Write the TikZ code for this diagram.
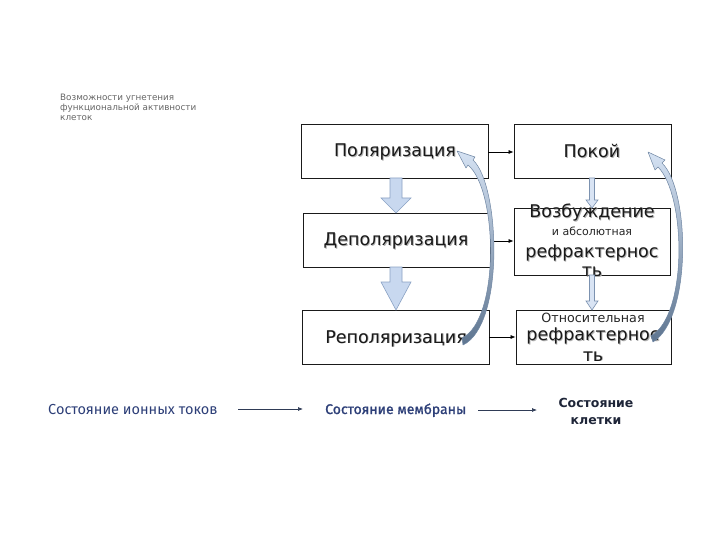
\documentclass[tikz,border=0pt]{standalone}
\usepackage{fontspec}
\setmainfont{DejaVu Sans}
\newfontfamily\botfont{Fira Sans}
\newfontfamily\botfontmed{Fira Sans}[FakeBold=1.2]
\usetikzlibrary{arrows.meta}
\definecolor{boxline}{HTML}{1A1A1A}
\definecolor{fatfill}{HTML}{C8D8EF}
\definecolor{fatline}{HTML}{8AA2C4}
\definecolor{curvetop}{HTML}{D5E2F3}
\definecolor{curvebot}{HTML}{5E7590}
\definecolor{curveline}{HTML}{6F86A3}
\definecolor{bottxt}{HTML}{2D3F78}
\definecolor{botdark}{HTML}{1E2538}
\definecolor{botarrow}{HTML}{2F3B56}
\newcommand\shtxt[1]{\leavevmode\rlap{\raisebox{-0.9pt}{\hspace{0.9pt}\textcolor{black!30}{#1}}}#1}
\tikzset{
  statebox/.style={draw=boxline, line width=0.8pt, rectangle, inner sep=0pt},
  boxtxt/.style={font=\fontsize{17.5}{20}\selectfont, anchor=base, inner sep=0pt, text=black!90},
  smalltxt/.style={font=\fontsize{11}{13}\selectfont, anchor=base, inner sep=0pt, text=black!85},
  harrow/.style={-{Latex[length=5pt,width=4pt]}, line width=0.7pt, black},
  fatarrow/.style={fill=fatfill, draw=fatline, line width=0.6pt, line join=miter},
  thinarrow/.style={fill=fatfill!70, draw=fatline!90!black, line width=0.6pt},
  curvearrow/.style={top color=curvetop, bottom color=curvebot, draw=curveline, line width=0.5pt, line join=round},
  bottxtstyle/.style={font=\botfont\fontsize{14.5}{16}\selectfont, text=bottxt, anchor=base west, inner sep=0pt},
  botarrowstyle/.style={-{Latex[length=5pt,width=4pt]}, line width=0.7pt, botarrow}
}
\begin{document}
\begin{tikzpicture}[x=1pt,y=-1pt]
\useasboundingbox (0,0) rectangle (720,540);
\fill[white] (0,0) rectangle (720,540);

% top-left caption
\node[anchor=north west, inner sep=0pt, align=left, text=black!60,
      font=\fontsize{8.8}{10}\selectfont] (caption) at (60,94)
  {Возможности угнетения\\функциональной активности\\клеток};

% left column boxes
\node[statebox, minimum width=187pt, minimum height=54pt] (pol) at (394.5,151) {};
\node[statebox, minimum width=187pt, minimum height=54pt] (dep) at (396.5,240) {};
\node[statebox, minimum width=187pt, minimum height=54pt] (rep) at (395.5,337) {};
\node[boxtxt] (polt) at (395,157) {\shtxt{Поляризация}};
\node[boxtxt] (dept) at (396,245.5) {\shtxt{Деполяризация}};
\node[boxtxt] (rept) at (396,343) {\shtxt{Реполяризация}};

% right column boxes
\node[statebox, minimum width=157pt, minimum height=54pt] (pok) at (592.5,151) {};
\node[statebox, minimum width=156pt, minimum height=67pt] (voz) at (592,241.5) {};
\node[statebox, minimum width=155pt, minimum height=54pt] (otn) at (593.5,337) {};
\node[boxtxt] (pokt) at (592,158) {\shtxt{Покой}};
\node[boxtxt] (vozt1) at (592,218) {\shtxt{Возбуждение}};
\node[smalltxt] (vozt2) at (592,236) {и абсолютная};
\node[boxtxt] (vozt3) at (592,258) {\shtxt{рефрактернос}};
\node[boxtxt] (vozt4) at (592,276.5) {\shtxt{ть}};
\node[smalltxt, font=\fontsize{12.7}{14}\selectfont] (otnt1) at (593,322) {Относительная};
\node[boxtxt] (otnt2) at (593,340.5) {\shtxt{рефрактернос}};
\node[boxtxt] (otnt3) at (593,361) {\shtxt{ть}};

% horizontal arrows
\draw[harrow] (pol.east |- 0,152) -- (pok.west |- 0,152);
\draw[harrow] (dep.east |- 0,241) -- (voz.west |- 0,241);
\draw[harrow] (rep.east |- 0,337) -- (otn.west |- 0,337);

% fat block arrows (left column)
\path[fatarrow] (390,178) -- (390,198) -- (381,198) -- (396,213) -- (411,198) -- (402,198) -- (402,178) -- cycle;
\path[fatarrow] (390,267) -- (390,282) -- (381,282) -- (396,310) -- (411,282) -- (402,282) -- (402,267) -- cycle;

% thin hollow arrows (right column)
\path[thinarrow] (589.5,178) -- (589.5,200) -- (586,200) -- (592,208) -- (598,200) -- (594.5,200) -- (594.5,178) -- cycle;
\path[thinarrow] (589.5,275) -- (589.5,301) -- (586,301) -- (592,310) -- (598,301) -- (594.5,301) -- (594.5,275) -- cycle;

% curved return arrows
\path[curvearrow] (463,345) .. controls (505,325) and (500,185) .. (473,160)
  -- (475,157) -- (457,151) -- (466,168) -- (468,165)
  .. controls (498,190) and (500,320) .. (462,338) -- cycle;
\path[curvearrow] (653,342) .. controls (692,318) and (690,190) .. (662,163)
  -- (665,160) -- (648,152) -- (655,170) -- (658,167)
  .. controls (686,195) and (688,315) .. (651,336) -- cycle;

% bottom row
\node[bottxtstyle] (ion) at (48,414) {Состояние ионных токов};
\node[bottxtstyle, font=\botfontmed\fontsize{14}{16}\selectfont] (mem) at (325,414) {Состояние мембраны};
\node[font=\bfseries\fontsize{12.5}{17}\selectfont, text=botdark, align=center, inner sep=0pt] (cell) at (596,411) {Состояние\\клетки};
\coordinate (a1s) at (238,409);
\coordinate (a1e) at (303,409);
\coordinate (a2s) at (478,410);
\coordinate (a2e) at (537,410);
\draw[botarrowstyle] (a1s) -- (a1e);
\draw[botarrowstyle] (a2s) -- (a2e);
\end{tikzpicture}
\end{document}
